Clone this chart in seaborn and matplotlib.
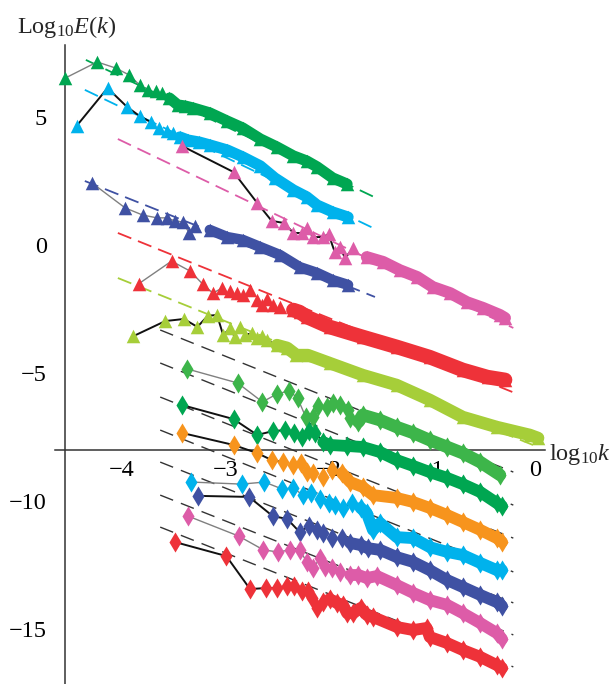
import numpy as np
import matplotlib
matplotlib.use("Agg")
import matplotlib.pyplot as plt
from matplotlib.ticker import FixedLocator, NullFormatter
import seaborn as sns

# ---------------- data (log10 k, log10 E) ----------------
# triangle series (upper group)
tri_green_k = [-4.55,-4.24,-4.06,-3.93,-3.83,-3.75,-3.67,-3.61,-3.54,-3.46,-3.39,-3.31,-3.15,-2.98,-2.83,-2.66,-2.50,-2.34,-2.21,-2.11,-1.96,-1.82]
tri_green_E = [6.52,7.15,6.91,6.64,6.25,6.05,6.02,5.94,5.74,5.47,5.43,5.35,5.16,4.84,4.57,4.14,3.83,3.48,3.28,3.05,2.62,2.38]

tri_cyan_k = [-4.44,-4.14,-3.95,-3.83,-3.72,-3.64,-3.56,-3.51,-3.44,-3.36,-3.25,-3.15,-2.98,-2.83,-2.66,-2.52,-2.34,-2.21,-2.11,-1.96,-1.81]
tri_cyan_E = [4.65,6.13,5.39,5.04,4.80,4.57,4.45,4.38,4.22,4.10,4.02,3.91,3.71,3.44,3.09,2.62,2.15,1.88,1.56,1.29,1.09]

tri_pink_k = [-3.42,-2.92,-2.69,-2.55,-2.43,-2.34,-2.26,-2.21,-2.15,-2.05,-2.00,-1.94,-1.89,-1.84,-1.76,-1.63,-1.47,-1.31,-1.14,-0.99,-0.82,-0.66,-0.50,-0.34,-0.29]
tri_pink_E = [3.87,2.85,1.64,0.94,0.86,0.47,0.47,0.66,0.31,0.31,0.43,-0.27,-0.08,-0.51,-0.12,-0.47,-0.66,-0.98,-1.25,-1.64,-1.88,-2.23,-2.46,-2.73,-2.85]

tri_blue_k = [-4.29,-3.97,-3.80,-3.66,-3.56,-3.49,-3.41,-3.35,-3.29,-3.15,-2.98,-2.83,-2.66,-2.47,-2.28,-2.11,-1.96,-1.81]
tri_blue_E = [2.42,1.45,1.17,1.06,1.06,0.94,0.90,0.47,0.74,0.59,0.31,0.20,-0.08,-0.39,-0.86,-1.09,-1.37,-1.56]

tri_red_k = [-3.84,-3.52,-3.34,-3.22,-3.12,-3.03,-2.95,-2.89,-2.83,-2.76,-2.69,-2.64,-2.60,-2.54,-2.47,-2.34,-2.28,-2.21,-1.99,-1.67,-1.34,-1.02,-0.70,-0.46,-0.29]
tri_red_E = [-1.52,-0.63,-1.02,-1.52,-1.88,-1.68,-1.80,-1.88,-1.95,-1.76,-2.15,-2.34,-2.11,-2.34,-2.42,-2.54,-2.62,-2.81,-3.20,-3.59,-3.98,-4.38,-4.88,-5.16,-5.27]

tri_lime_k = [-3.89,-3.58,-3.40,-3.27,-3.17,-3.08,-3.02,-2.95,-2.91,-2.86,-2.81,-2.74,-2.69,-2.64,-2.60,-2.50,-2.40,-2.31,-2.20,-1.99,-1.67,-1.34,-1.02,-0.70,-0.37,-0.05,0.03]
tri_lime_E = [-3.56,-2.97,-2.89,-3.20,-2.77,-2.73,-3.52,-3.24,-3.59,-3.20,-3.52,-3.44,-3.63,-3.56,-3.71,-3.91,-4.02,-4.30,-4.30,-4.61,-5.08,-5.47,-6.05,-6.72,-7.11,-7.42,-7.54]

# diamond series (lower group)
dia_lgreen_k = [-3.37,-2.88,-2.64,-2.50,-2.38,-2.30,-2.22,-2.15,-2.10,-2.01,-1.96,-1.89,-1.81,-1.79,-1.71,-1.67,-1.50,-1.34,-1.18,-1.02,-0.85,-0.70,-0.53,-0.34]
dia_lgreen_E = [-4.84,-5.39,-6.13,-5.82,-5.70,-5.98,-6.72,-6.72,-6.29,-6.33,-6.17,-6.25,-6.45,-6.76,-6.91,-6.64,-6.84,-7.11,-7.34,-7.62,-7.89,-8.13,-8.48,-8.98]

dia_dgreen_k = [-3.42,-2.92,-2.69,-2.54,-2.42,-2.33,-2.26,-2.19,-2.13,-2.05,-1.99,-1.82,-1.67,-1.50,-1.34,-1.18,-1.02,-0.85,-0.70,-0.53,-0.37,-0.32]
dia_dgreen_E = [-6.25,-6.80,-7.42,-7.27,-7.23,-7.34,-7.50,-7.27,-7.34,-7.70,-7.81,-7.85,-7.89,-8.09,-8.40,-8.63,-8.87,-9.10,-9.34,-9.65,-10.08,-10.20]

dia_orange_k = [-3.42,-2.92,-2.69,-2.55,-2.44,-2.34,-2.27,-2.21,-2.15,-2.05,-1.97,-1.87,-1.79,-1.67,-1.57,-1.34,-1.18,-1.02,-0.85,-0.70,-0.53,-0.37,-0.32]
dia_orange_E = [-7.34,-7.81,-8.13,-8.40,-8.48,-8.59,-8.52,-8.87,-8.91,-9.06,-8.79,-8.91,-9.26,-9.45,-9.77,-9.88,-10.04,-10.27,-10.55,-10.82,-11.13,-11.45,-11.60]

dia_cyan_k = [-3.33,-2.84,-2.62,-2.45,-2.34,-2.25,-2.17,-2.08,-2.00,-1.94,-1.86,-1.77,-1.69,-1.63,-1.57,-1.50,-1.34,-1.18,-1.02,-0.85,-0.70,-0.53,-0.37,-0.32]
dia_cyan_E = [-9.26,-9.34,-9.26,-9.53,-9.49,-9.77,-9.69,-9.92,-10.08,-10.16,-10.27,-10.08,-10.27,-10.47,-11.13,-10.86,-11.41,-11.45,-11.80,-11.99,-12.11,-12.42,-12.70,-12.70]

dia_blue_k = [-3.26,-2.77,-2.54,-2.40,-2.28,-2.19,-2.11,-2.05,-1.97,-1.87,-1.79,-1.69,-1.62,-1.50,-1.34,-1.18,-1.02,-0.85,-0.70,-0.53,-0.37,-0.32]
dia_blue_E = [-9.80,-9.84,-10.59,-10.70,-11.21,-10.98,-11.13,-11.25,-11.45,-11.45,-11.64,-11.72,-11.84,-11.91,-12.19,-12.38,-12.70,-13.09,-13.36,-13.67,-13.95,-14.10]

dia_pink_k = [-3.36,-2.87,-2.63,-2.49,-2.37,-2.28,-2.21,-2.15,-2.08,-2.03,-1.97,-1.89,-1.79,-1.71,-1.63,-1.53,-1.34,-1.18,-1.02,-0.85,-0.70,-0.53,-0.37,-0.32]
dia_pink_E = [-10.59,-11.37,-11.91,-11.99,-11.91,-11.91,-12.38,-12.62,-12.23,-12.58,-12.62,-12.77,-12.89,-12.89,-13.01,-12.93,-13.28,-13.59,-13.87,-14.06,-14.38,-14.77,-15.16,-15.39]

dia_red_k = [-3.49,-2.99,-2.76,-2.61,-2.50,-2.40,-2.33,-2.26,-2.20,-2.16,-2.11,-2.05,-1.99,-1.92,-1.86,-1.82,-1.76,-1.69,-1.63,-1.57,-1.34,-1.18,-1.05,-1.02,-0.85,-0.70,-0.53,-0.37,-0.32]
dia_red_E = [-11.60,-12.15,-13.44,-13.40,-13.40,-13.32,-13.32,-13.52,-13.52,-13.79,-14.18,-13.95,-13.83,-13.98,-14.06,-14.38,-14.38,-14.18,-14.45,-14.53,-14.92,-15.04,-14.96,-15.31,-15.55,-15.82,-16.09,-16.41,-16.52]

# coloured reference (dashed) lines of the triangle series: [k_start, k_end], [E_start, E_end]
guide_green_k, guide_green_E = [-4.35, -1.54], [7.23, 1.84]
guide_cyan_k, guide_cyan_E = [-4.36, -1.55], [6.06, 0.63]
guide_pink_k, guide_pink_E = [-4.04, -0.21], [4.14, -3.24]
guide_blue_k, guide_blue_E = [-4.36, -1.55], [2.50, -2.03]
guide_red_k, guide_red_E = [-4.04, -0.22], [0.47, -5.74]
guide_lime_k, guide_lime_E = [-4.04, -0.02], [-1.29, -7.81]

# black reference lines of the diamond series
black_guide_k = [-3.63, -0.21]
black_guide_E_start = [-3.32, -4.61, -5.94, -7.23, -8.48, -9.77, -11.02]
black_guide_E_end = [-8.87, -10.16, -11.45, -12.77, -13.98, -15.23, -16.48]

x_ticks = [-4, -3, -2, -1, 0]
y_ticks = [5, 0, -5, -10, -15]

# ---------------- style ----------------
sns.set_theme(style="white")
plt.rcParams['font.family'] = ['Liberation Serif', 'DejaVu Serif']
plt.rcParams['mathtext.fontset'] = 'custom'
plt.rcParams['mathtext.rm'] = 'Liberation Serif'
plt.rcParams['mathtext.it'] = 'Liberation Serif:italic'
plt.rcParams['axes.unicode_minus'] = True

C_GREEN = '#00a651'
C_CYAN = '#00b2ec'
C_PINK = '#dd5ca8'
C_BLUE = '#3f51a3'
C_RED = '#ee3239'
C_LIME = '#a6ce39'
C_LGREEN = '#3db54a'
C_ORANGE = '#f7941d'

fig = plt.figure(figsize=(6.13, 6.84), dpi=100)
ax = fig.add_axes([0, 0, 1, 1])
ax.set_facecolor('white')
ax.set_xlim(-5.1816, 0.7554)
ax.set_ylim(-17.148, 9.570)

def guide(k, E, color, lw, dash):
    sns.lineplot(x=k, y=E, sort=False, estimator=None, color=color, lw=lw, ax=ax, zorder=1)
    ax.lines[-1].set_dashes(dash)

for k, E, c in [(guide_green_k, guide_green_E, C_GREEN), (guide_cyan_k, guide_cyan_E, C_CYAN),
                (guide_pink_k, guide_pink_E, C_PINK), (guide_blue_k, guide_blue_E, C_BLUE),
                (guide_red_k, guide_red_E, C_RED), (guide_lime_k, guide_lime_E, C_LIME)]:
    guide(k, E, c, 1.3, (8, 4))

for e0, e1 in zip(black_guide_E_start, black_guide_E_end):
    guide(black_guide_k, [e0, e1], '#333333', 1.0, (10, 6))

# series: (k, E, colour, marker, connector colour, number of connected points, band start, band width)
series = [
    (tri_green_k, tri_green_E, C_GREEN, '^', '#808080', 6, 8, 8.0),
    (tri_cyan_k, tri_cyan_E, C_CYAN, '^', '#111111', 5, 8, 8.0),
    (tri_pink_k, tri_pink_E, C_PINK, '^', '#111111', 15, 15, 8.5),
    (tri_blue_k, tri_blue_E, C_BLUE, '^', '#808080', 9, 9, 7.5),
    (tri_red_k, tri_red_E, C_RED, '^', '#808080', 6, 15, 10.5),
    (tri_lime_k, tri_lime_E, C_LIME, '^', '#111111', 16, 15, 9.0),
    (dia_lgreen_k, dia_lgreen_E, C_LGREEN, 'd', '#808080', 13, 14, 9.0),
    (dia_dgreen_k, dia_dgreen_E, C_GREEN, 'd', '#111111', 10, 9, 8.5),
    (dia_orange_k, dia_orange_E, C_ORANGE, 'd', '#111111', 5, 11, 8.5),
    (dia_cyan_k, dia_cyan_E, C_CYAN, 'd', '#808080', 6, 12, 8.5),
    (dia_blue_k, dia_blue_E, C_BLUE, 'd', '#111111', 8, 10, 8.5),
    (dia_pink_k, dia_pink_E, C_PINK, 'd', '#808080', 9, 12, 8.5),
    (dia_red_k, dia_red_E, C_RED, 'd', '#111111', 9, 12, 8.5),
]

for i, (k, E, c, m, cc, nconn, b0, bw) in enumerate(series):
    z = 3 + i * 0.1
    sns.lineplot(x=k[:nconn], y=E[:nconn], sort=False, estimator=None, color=cc,
                 lw=1.0 if cc != '#111111' else 1.4, ax=ax, zorder=z)
    sns.lineplot(x=k[b0:], y=E[b0:], sort=False, estimator=None, color=c, lw=bw, ax=ax, zorder=z)
    ax.lines[-1].set_solid_capstyle('round')
    ax.lines[-1].set_solid_joinstyle('round')
    sns.scatterplot(x=k, y=E, marker=m, s=95 if m == '^' else 105, color=c, linewidth=0,
                    ax=ax, zorder=z + 0.05)

# ---------------- axes ----------------
for s in ['top', 'right']:
    ax.spines[s].set_visible(False)
ax.spines['left'].set_position(('data', -4.552))
ax.spines['left'].set_bounds(-17.2, 7.8)
ax.spines['bottom'].set_position(('data', -8.0))
ax.spines['bottom'].set_bounds(-4.65, 0.097)
for s in ['left', 'bottom']:
    ax.spines[s].set_color('#333333')
    ax.spines[s].set_linewidth(1.1)
    ax.spines[s].set_zorder(2)

ax.xaxis.set_major_locator(FixedLocator(x_ticks))
ax.set_xticklabels([f"\u2212{abs(v)}" if v < 0 else str(v) for v in x_ticks])
ax.xaxis.set_minor_locator(FixedLocator([v for v in np.round(np.arange(-4.4, 0.01, 0.2), 2)
                                         if abs(v - round(v)) > 1e-6]))
ax.yaxis.set_major_locator(FixedLocator(y_ticks))
ax.set_yticklabels([f"\u2212{abs(v)}" if v < 0 else str(v) for v in y_ticks])
ax.yaxis.set_minor_locator(FixedLocator([v for v in range(-17, 8) if v % 5 != 0]))
ax.xaxis.set_minor_formatter(NullFormatter())
ax.yaxis.set_minor_formatter(NullFormatter())
ax.tick_params(which='both', direction='in', colors='#333333', labelcolor='black', width=0.9)
ax.tick_params(which='major', length=4.5)
ax.tick_params(which='minor', length=3.5)
ax.tick_params(axis='x', labelsize=17.5, pad=7)
ax.tick_params(axis='y', labelsize=17.5, pad=13)
ax.set_xlabel('')
ax.set_ylabel('')

fig.text(17 / 613, 1 - 33 / 684, r'Log$_{10}$$E$($k$)', fontsize=17.5, ha='left', va='baseline')
fig.text(549 / 613, 1 - 460 / 684, r'log$_{10}$$k$', fontsize=17.5, ha='left', va='baseline')

fig.savefig('out.png', dpi=100)
